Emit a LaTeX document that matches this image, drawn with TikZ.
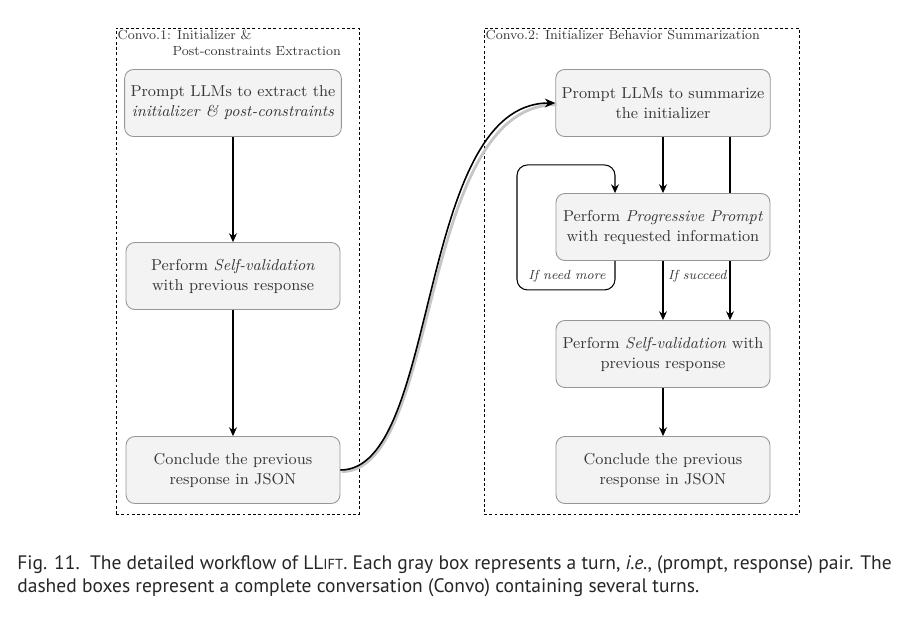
\documentclass[tikz,border=0pt]{standalone}
\usepackage{fontspec}
\newfontfamily\capfont{PT Sans}
\usetikzlibrary{arrows.meta,positioning,calc,backgrounds}
\definecolor{boxgray}{RGB}{243,243,243}
\definecolor{boxline}{RGB}{150,150,150}
\definecolor{txtgray}{RGB}{55,55,55}
\tikzset{
  turn/.style={draw=boxline, fill=boxgray, rounded corners=5pt, line width=0.5pt,
    minimum width=4.28cm, minimum height=1.34cm, align=center, text=txtgray,
    font=\fontsize{9}{11.4}\selectfont},
  convo/.style={draw, dash pattern=on 1.6pt off 1.4pt, line width=0.5pt},
  title/.style={anchor=north west, align=left, inner sep=1pt, text=txtgray,
    font=\fontsize{7.5}{9.4}\selectfont},
  flow/.style={-{Stealth[length=5pt,width=4.5pt]}, line width=0.6pt},
  cond/.style={font=\fontsize{7.5}{10}\selectfont\itshape, text=txtgray, inner sep=1pt},
}

\begin{document}
\begin{tikzpicture}[x=0.02cm, y=-0.02cm]
\useasboundingbox (0,0) rectangle (916,620);
% the two conversations
\node[convo, minimum width=4.86cm, minimum height=9.72cm] (convo1) at (237.5,271) {};
\node[convo, minimum width=6.3cm, minimum height=9.72cm] (convo2) at (641.5,271) {};
\node[title] (title1) at (convo1.north west) {Convo.1: Initializer \&\\\hspace*{1.1cm}Post-constraints Extraction};
\node[title] (title2) at (convo2.north west) {Convo.2: Initializer Behavior Summarization};

% turns of convo 1
\node[turn] (extract) at (233,103) {Prompt LLMs to extract the\\\textit{initializer \& post-constraints}};
\node[turn] (selfval) at (233,276) {Perform \textit{Self-validation}\\with previous response};
\node[turn] (conclude) at (233,470) {Conclude the previous\\response in JSON};

% turns of convo 2
\node[turn] (summarize) at (663,103) {Prompt LLMs to summarize\\the initializer};
\node[turn] (progress) at (663,227) {Perform \textit{Progressive Prompt}\\with requested information};
\node[turn] (recheck) at (663,354) {Perform \textit{Self-validation} with\\previous response};
\node[turn] (final) at (663,470) {Conclude the previous\\response in JSON};

\draw[flow] (extract) -- (selfval);
\draw[flow] (selfval) -- (conclude);
\draw[flow] (summarize) -- (progress);
\draw[flow] (progress) -- (recheck);
\draw[flow] (recheck) -- (final);
\begin{scope}[on background layer]
  \draw[flow] ([xshift=1.34cm]summarize.south) -- ([xshift=1.34cm]recheck.north);
\end{scope}
\draw[flow, rounded corners=6pt] ([xshift=-0.96cm]progress.south) -- ++(0,29)
  -| ++(-98,-125) -| ([xshift=-0.96cm]progress.north);
\node[cond] (needmore) at (567,276) {If need more};
\node[cond, anchor=west] (succeed) at (666,276) {If succeed};

% hand over from convo 1 to convo 2
\draw[gray!45, line width=1.6pt, transform canvas={shift={(0.7pt,-0.9pt)}}]
  (conclude.east) .. controls +(100,0) and +(-140,0) .. (summarize.west);
\draw[-{Stealth[length=6pt,width=5pt]}, line width=0.9pt]
  (conclude.east) .. controls +(100,0) and +(-140,0) .. (summarize.west);

\node[anchor=north west, align=left, inner sep=0pt, text=black!85,
  font=\capfont\fontsize{11.1}{13}\selectfont] (caption) at (17,555)
  {Fig. 11.\ \ The detailed workflow of LL{\fontsize{8.3}{9}\selectfont IFT}. Each gray box represents a turn, \textit{i.e.}, (prompt, response) pair. The\\
   dashed boxes represent a complete conversation (Convo) containing several turns.};
\end{tikzpicture}
\end{document}
